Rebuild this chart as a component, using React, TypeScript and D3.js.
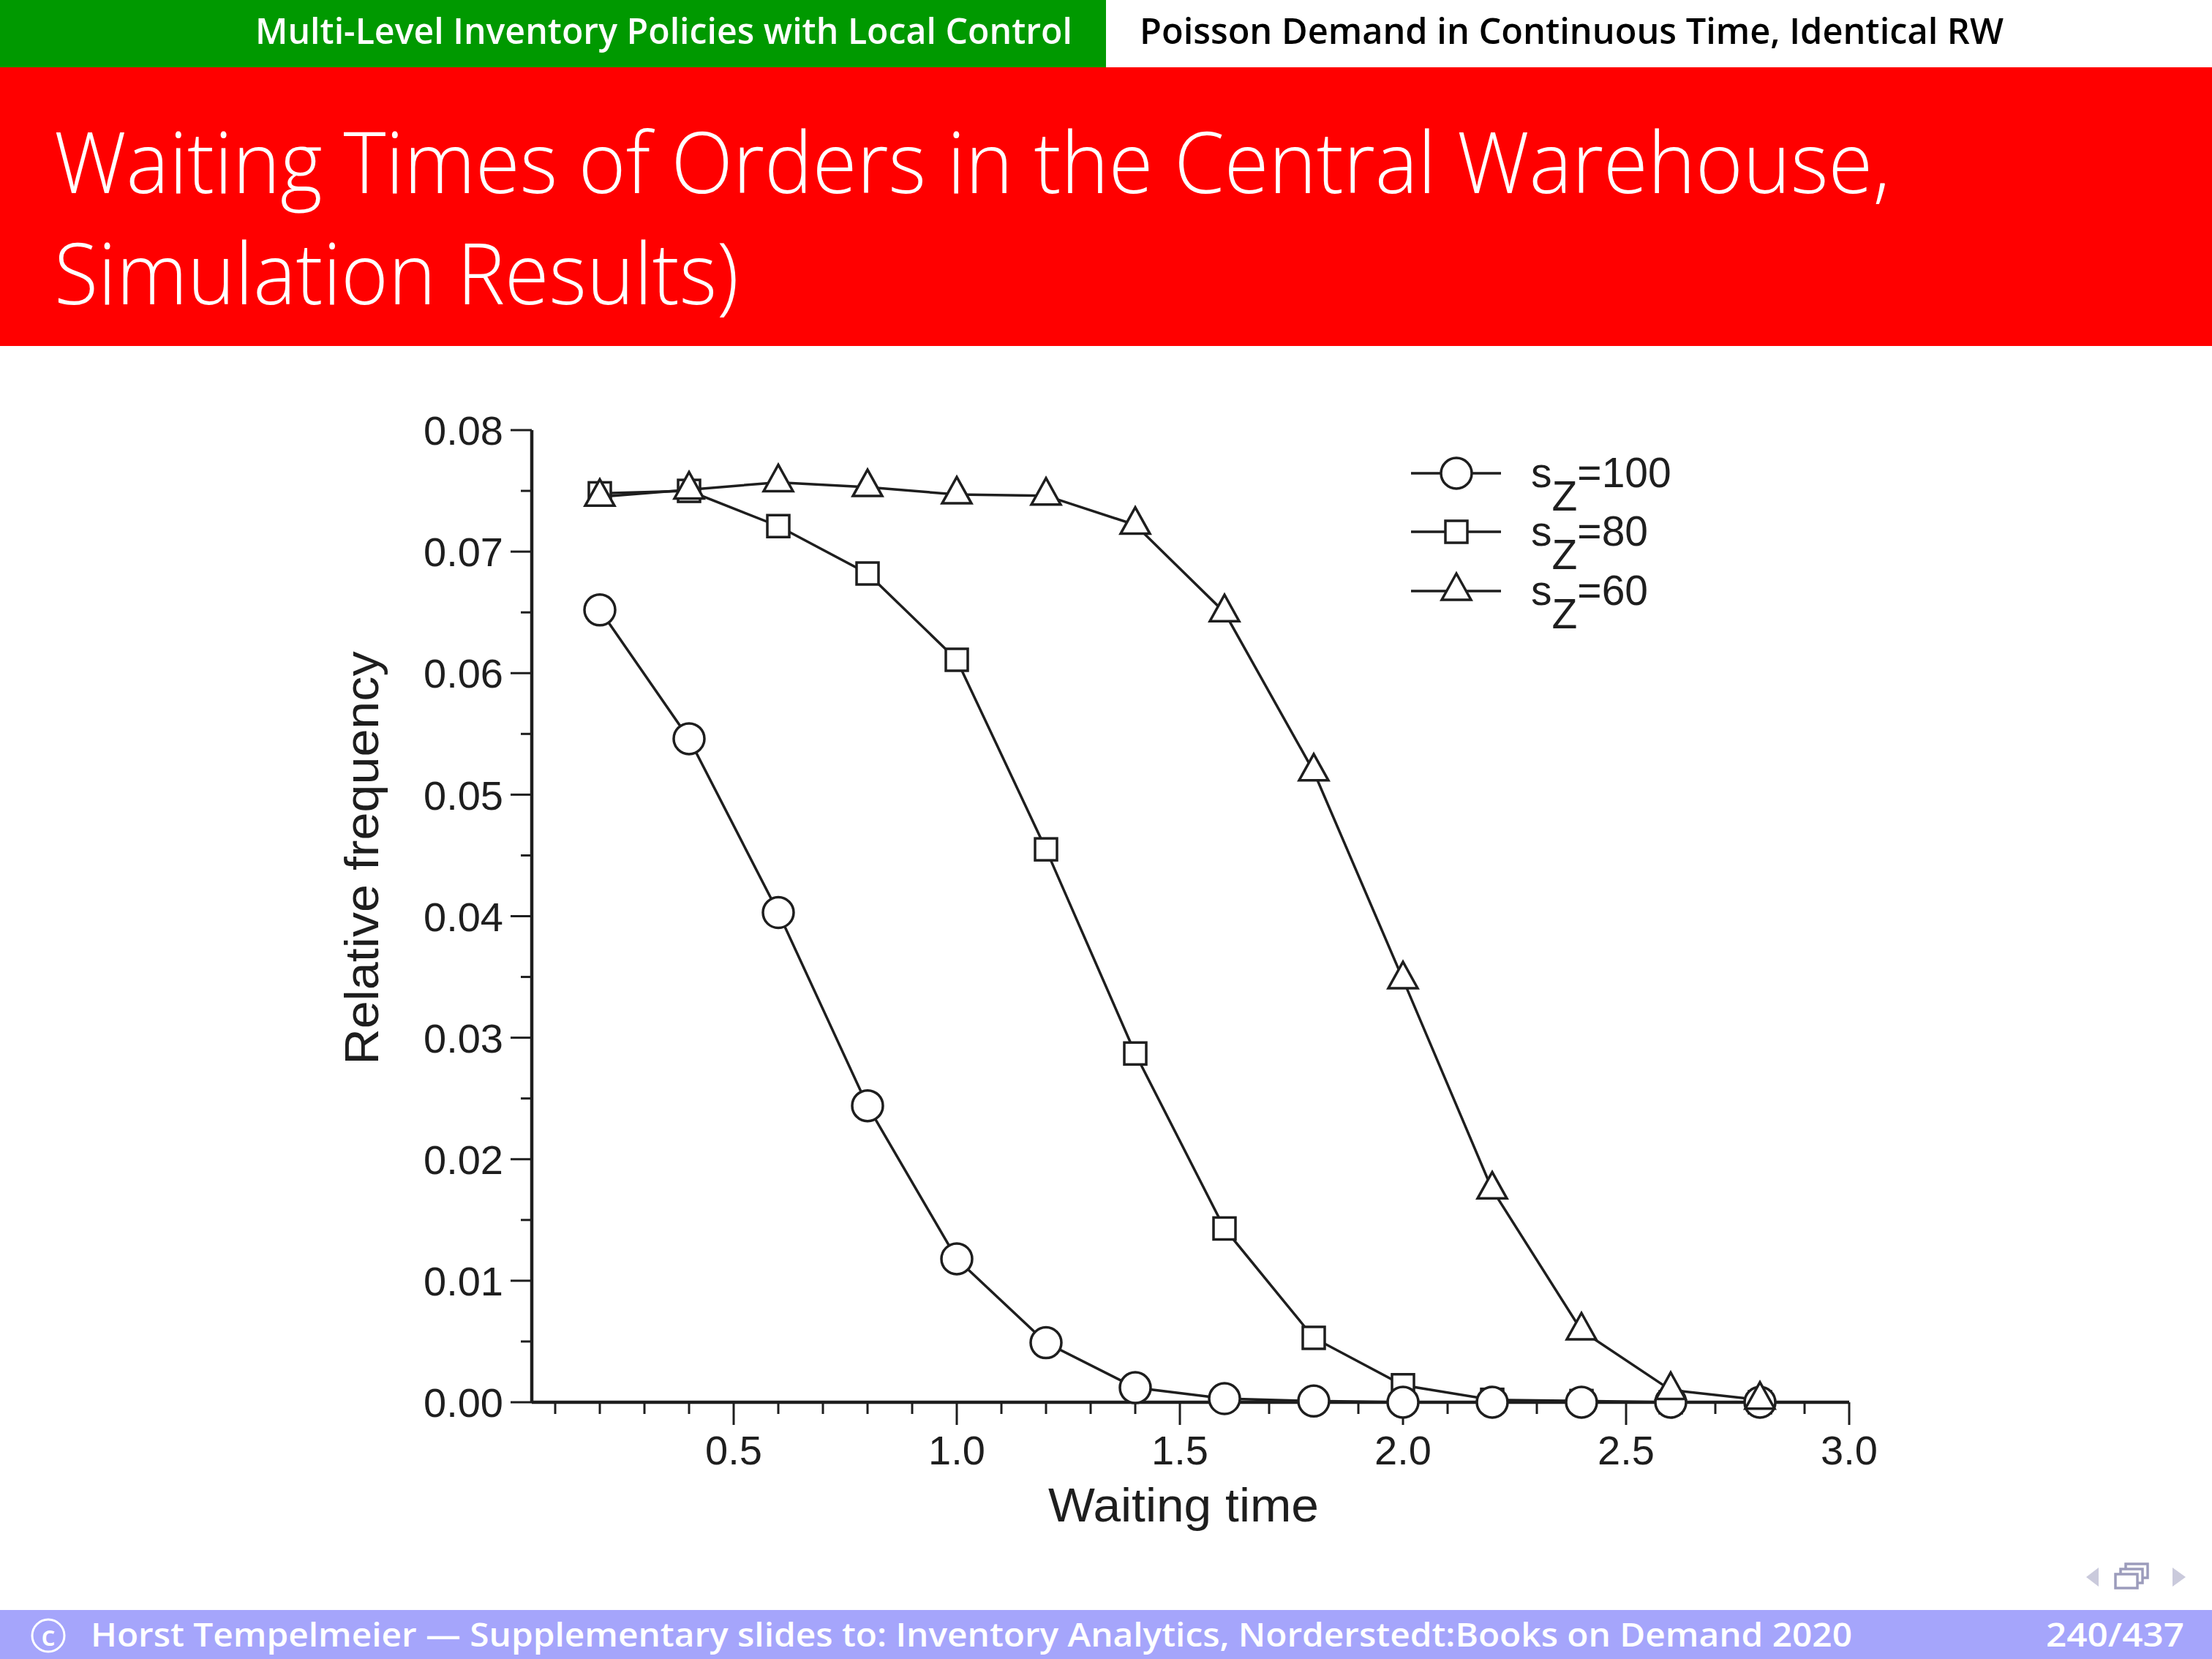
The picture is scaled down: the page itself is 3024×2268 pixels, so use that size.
import React from "react";
import * as d3 from "d3";

const waitingTimes = [0.2, 0.4, 0.6, 0.8, 1.0, 1.2, 1.4, 1.6, 1.8, 2.0, 2.2, 2.4, 2.6, 2.8];
const freqS100 = [0.0652, 0.0546, 0.0403, 0.0244, 0.0118, 0.0049, 0.0012, 0.0003, 0.0001, 0.0, 0.0, 0.0, 0.0, 0.0];
const freqS80 = [0.0748, 0.075, 0.0721, 0.0682, 0.0611, 0.0455, 0.0287, 0.0143, 0.0053, 0.0014, 0.0002, 0.0001, 0.0, 0.0];
const freqS60 = [0.0745, 0.0751, 0.0757, 0.0753, 0.0747, 0.0746, 0.0722, 0.065, 0.0519, 0.0348, 0.0175, 0.0059, 0.001, 0.0002];
const seriesNames = ["100", "80", "60"];
const yTickLabels = ["0.00", "0.01", "0.02", "0.03", "0.04", "0.05", "0.06", "0.07", "0.08"];
const xTickLabels = ["0.5", "1.0", "1.5", "2.0", "2.5", "3.0"];

const W = 3024;
const H = 2268;
const INK = "#1e1e1e";
const AXFONT = "'Liberation Sans', Arial, sans-serif";

export default function App() {
  const x = d3.scaleLinear().domain([0, 3]).range([698, 2528]);
  const y = d3.scaleLinear().domain([0, 0.08]).range([1917, 588]);
  const axisX0 = 727;

  const series = [
    { name: seriesNames[0], values: freqS100, shape: "circle" },
    { name: seriesNames[1], values: freqS80, shape: "square" },
    { name: seriesNames[2], values: freqS60, shape: "triangle" },
  ];

  const line = d3
    .line<[number, number]>()
    .x((d) => x(d[0]))
    .y((d) => y(d[1]));

  const marker = (shape: string, cx: number, cy: number, key: string) => {
    if (shape === "circle")
      return <circle key={key} cx={cx} cy={cy} r={21} fill="#fff" stroke={INK} strokeWidth={3.5} />;
    if (shape === "square")
      return <rect key={key} x={cx - 15} y={cy - 15} width={30} height={30} fill="#fff" stroke={INK} strokeWidth={3.5} />;
    return (
      <path
        key={key}
        d={`M${cx},${cy - 24} L${cx + 20},${cy + 12} L${cx - 20},${cy + 12} Z`}
        fill="#fff"
        stroke={INK}
        strokeWidth={3.5}
        strokeLinejoin="miter"
      />
    );
  };

  const xMinor = d3.range(1, 31).map((i) => i / 10);
  const xMajor = xTickLabels.map((t) => +t);
  const yMinor = d3.range(0, 17).map((i) => i * 0.005);
  const yMajor = yTickLabels.map((t) => +t);

  const drawOrder = [1, 0, 2];
  const legendRows = [647, 727, 808];

  return (
    <svg width={W} height={H} style={{ position: "absolute", left: 0, top: 0, display: "block", background: "#fff" }}>
      {/* header */}
      <rect x={0} y={0} width={1512} height={92} fill="#009900" />
      <rect x={1512} y={0} width={W - 1512} height={92} fill="#fff" />
      <text x={349} y={60} fill="#fff" fontFamily="'Open Sans', 'Noto Sans', sans-serif" fontWeight={600} fontSize={48} textLength={1117} lengthAdjust="spacingAndGlyphs">
        Multi-Level Inventory Policies with Local Control
      </text>
      <text x={1558} y={60} fill="#000" fontFamily="'Open Sans', 'Noto Sans', sans-serif" fontWeight={600} fontSize={48} textLength={1181} lengthAdjust="spacingAndGlyphs">
        Poisson Demand in Continuous Time, Identical RW
      </text>
      <rect x={0} y={92} width={W} height={381} fill="#ff0000" />
      <text x={74} y={264} fill="#fff" fontFamily="'Open Sans', 'Noto Sans', sans-serif" fontWeight={300} fontSize={116} textLength={2510} lengthAdjust="spacingAndGlyphs">
        Waiting Times of Orders in the Central Warehouse,
      </text>
      <text x={74} y={416} fill="#fff" fontFamily="'Open Sans', 'Noto Sans', sans-serif" fontWeight={300} fontSize={116} textLength={936} lengthAdjust="spacingAndGlyphs">
        Simulation Results)
      </text>

      {/* lines */}
      {series.map((s, si) => (
        <path
          key={`l${si}`}
          d={line(waitingTimes.map((t, i) => [t, s.values[i]]) as [number, number][]) || ""}
          fill="none"
          stroke={INK}
          strokeWidth={3.5}
        />
      ))}

      {/* axes */}
      <line x1={axisX0} x2={axisX0} y1={y(0.08)} y2={y(0)} stroke={INK} strokeWidth={4.5} />
      <line x1={axisX0} x2={x(3)} y1={y(0)} y2={y(0)} stroke={INK} strokeWidth={4.5} />
      {yMinor.map((v, i) => {
        const major = i % 2 === 0;
        return (
          <line key={`ym${i}`} x1={axisX0 - (major ? 29 : 15)} x2={axisX0} y1={y(v)} y2={y(v)} stroke={INK} strokeWidth={3} />
        );
      })}
      {yMajor.map((v, i) => (
        <text key={`yt${i}`} x={688} y={y(v)} dy="0.36em" textAnchor="end" fontFamily={AXFONT} fontSize={56} fill={INK}>
          {yTickLabels[i]}
        </text>
      ))}
      {xMinor.map((v, i) => {
        const major = Math.abs(v * 2 - Math.round(v * 2)) < 1e-6;
        return (
          <line key={`xm${i}`} x1={x(v)} x2={x(v)} y1={y(0)} y2={y(0) + (major ? 31 : 16)} stroke={INK} strokeWidth={3} />
        );
      })}
      {xMajor.map((v, i) => (
        <text key={`xt${i}`} x={x(v)} y={2002} textAnchor="middle" fontFamily={AXFONT} fontSize={56} fill={INK}>
          {xTickLabels[i]}
        </text>
      ))}
      <text x={1618} y={2080} textAnchor="middle" fontFamily={AXFONT} fontSize={64} fill={INK} textLength={370} lengthAdjust="spacingAndGlyphs">
        Waiting time
      </text>
      <text
        transform={`translate(517,1173) rotate(-90)`}
        textAnchor="middle"
        fontFamily={AXFONT}
        fontSize={64}
        fill={INK}
        textLength={565}
        lengthAdjust="spacingAndGlyphs"
      >
        Relative frequency
      </text>

      {/* markers */}
      {drawOrder.map((si) =>
        waitingTimes.map((t, i) => marker(series[si].shape, x(t), y(series[si].values[i]), `m${si}-${i}`))
      )}

      {/* legend */}
      {series.map((s, si) => (
        <g key={`lg${si}`}>
          <line x1={1929} x2={2052} y1={legendRows[si]} y2={legendRows[si]} stroke={INK} strokeWidth={3.5} />
          {marker(s.shape, 1991, legendRows[si], `lgm${si}`)}
          <text x={2093} y={legendRows[si] + 19} fontFamily={AXFONT} fontSize={57} fill={INK}>
            s
            <tspan dy={32}>Z</tspan>
            <tspan dy={-32}>={s.name}</tspan>
          </text>
        </g>
      ))}

      {/* navigation symbols */}
      <path d="M2869,2143 L2852,2156 L2869,2169 Z" fill="#cacadc" />
      <path d="M2970,2143 L2988,2156 L2970,2169 Z" fill="#cacadc" />
      <g fill="#fff" stroke="#9c9cbc" strokeWidth={3.5}>
        <rect x={2906} y={2138} width={30} height={19} />
        <rect x={2899} y={2145} width={30} height={19} />
        <rect x={2892} y={2152} width={30} height={19} />
      </g>

      {/* footer */}
      <rect x={0} y={2201} width={W} height={H - 2201} fill="#a5a5fb" />
      <circle cx={66} cy={2236} r={22} fill="none" stroke="#fff" strokeWidth={3} />
      <text x={66} y={2250} textAnchor="middle" fill="#fff" fontFamily="'Open Sans', 'Noto Sans', sans-serif" fontWeight={600} fontSize={38}>
        c
      </text>
      <text x={124} y={2251} fill="#fff" fontFamily="'Open Sans', 'Noto Sans', sans-serif" fontWeight={600} fontSize={46} textLength={2408} lengthAdjust="spacingAndGlyphs">
        Horst Tempelmeier — Supplementary slides to: Inventory Analytics, Norderstedt:Books on Demand 2020
      </text>
      <text x={2797} y={2251} fill="#fff" fontFamily="'Open Sans', 'Noto Sans', sans-serif" fontWeight={600} fontSize={46} textLength={189} lengthAdjust="spacingAndGlyphs">
        240/437
      </text>
    </svg>
  );
}
